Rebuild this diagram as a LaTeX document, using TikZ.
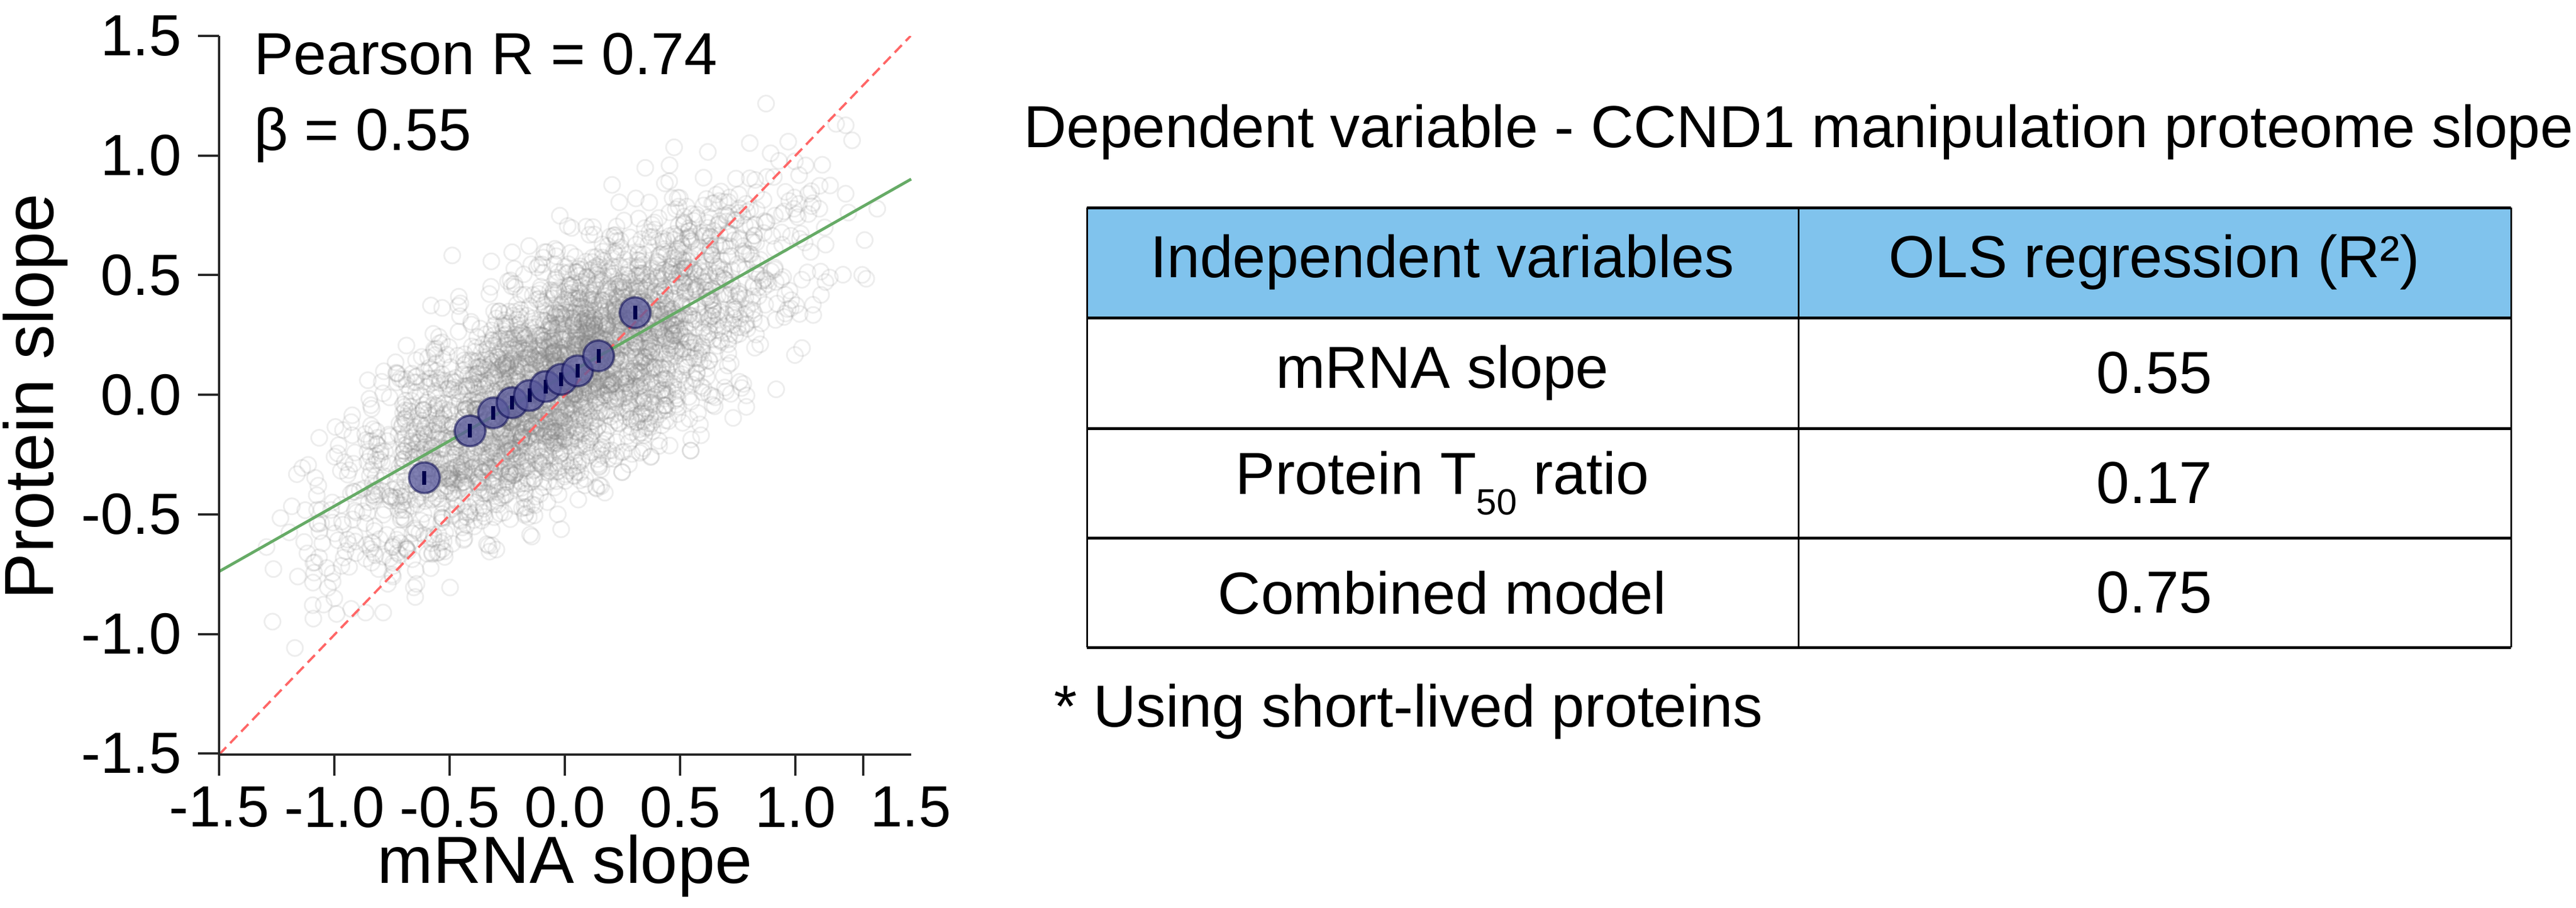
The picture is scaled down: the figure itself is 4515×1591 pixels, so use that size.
\documentclass[tikz,border=0pt]{standalone}
\usepackage{fontspec}
\setmainfont{Liberation Sans}
\begin{document}
\begin{tikzpicture}[x=1pt,y=-1pt,
  axis/.style={line width=4pt,draw=black!85},
  tick/.style={line width=4pt,draw=black!85},
  ticklab/.style={font=\fontsize{102}{110}\selectfont,inner sep=0pt},
  cloud/.style={draw=black!50,draw opacity=0.14,line width=3pt},
  binpt/.style={fill=blue!40!black!65,fill opacity=0.75,draw=blue!30!black,draw opacity=0.5,line width=4pt},
  cellt/.style={font=\fontsize{104}{110}\selectfont,inner sep=0pt},
  tline/.style={line width=5pt,draw=black}]
\useasboundingbox (0,0) rectangle (4515,1591);
\fill[white] (0,0) rectangle (4515,1591);
% scatter cloud
\begin{scope}
\clip (384,63) rectangle (1600,1323);
\pgfmathsetseed{7}
\foreach \i in {1,...,3400}{
  \pgfmathsetmacro\u{0.38*(rand+rand+rand)*(1+0.6*rnd*rnd)}
  \pgfmathsetmacro\w{0.55*\u+0.08+0.2*(rand+rand+rand)*(1+0.6*rnd*rnd)}
  \draw[cloud] ({384+404*(\u+1.5)},{63+419.4*(1.5-\w)}) circle[radius=14pt];
}
% lines
\draw[red!60!white,line width=4pt,dash pattern=on 18pt off 10pt] (384,1323) -- (1596,63);
\draw[green!45!black!60!white,line width=5pt] (384,1002) -- (1597,314);
\end{scope}
% binned points
\foreach \zx/\zy [count=\k] in {707/796,783/718,822/688,853/671,882/659,909/644,935/632,962/618,997/593,1058/521}{
  \node[binpt,circle,minimum size=54pt,inner sep=0pt] (b\k) at ({\zx/0.9503},{\zy/0.9503}) {};
  \draw[line width=7pt,draw=blue!30!black] ({\zx/0.9503},{\zy/0.9503-12}) -- ({\zx/0.9503},{\zy/0.9503+12});
}
% axes
\coordinate (o) at (384,1323);
\coordinate (xe) at (1597,1323);
\coordinate (ye) at (384,63);
\draw[axis] (xe) -- (o) -- (ye);
\foreach \v/\lab [count=\k] in {1.5/1.5,1.0/1.0,0.5/0.5,0.0/0.0,-0.5/-0.5,-1.0/-1.0,-1.5/-1.5}{
  \draw[tick] (347,{63+419.4*(1.5-\v)}) -- (384,{63+419.4*(1.5-\v)});
  \node[ticklab,anchor=east] (yl\k) at (318,{63+419.4*(1.5-\v)}) {\lab};
}
\foreach \v/\lab [count=\k] in {-1.5/-1.5,-1.0/-1.0,-0.5/-0.5,0.0/0.0,0.5/0.5,1.0/1.0,1.5/1.5}{
  \node[ticklab] (xl\k) at ({384+404*(\v+1.5)},1415) {\lab};
}
\foreach \px in {384,586,788,990,1192,1394,1513}{
  \draw[tick] (\px,1323) -- (\px,1360);
}
\node[font=\fontsize{122}{130}\selectfont,rotate=90,inner sep=0pt] (ylab) at (62,695) {Protein slope};
\node[font=\fontsize{117}{120}\selectfont,inner sep=0pt] (xlab) at (990,1518) {mRNA slope};
\node[font=\fontsize{104}{110}\selectfont,anchor=west,inner sep=0pt] (pr) at (445,95) {Pearson R = 0.74};
\node[font=\fontsize{104}{110}\selectfont,anchor=west,inner sep=0pt] (be) at (445,237) {β = 0.55};
% title
\node[font=\fontsize{104}{110}\selectfont,anchor=west,inner sep=0pt] (title) at (1794,232) {Dependent variable - CCND1 manipulation proteome slope};
% table
\fill[cyan!45!white!90!blue] (1905,364) rectangle (4401,557);
\draw[tline] (1905,364) -- (4401,364);
\draw[tline] (1905,557) -- (4401,557);
\draw[tline] (1905,751) -- (4401,751);
\draw[tline] (1905,943) -- (4401,943);
\draw[tline] (1905,1135) -- (4401,1135);
\draw[line width=3pt] (1905,364) -- (1905,1135);
\draw[line width=3pt] (3152,364) -- (3152,1135);
\draw[line width=3pt] (4401,364) -- (4401,1135);
\node[cellt] (h1) at (2528,460) {Independent variables};
\node[cellt] (h2) at (3776,460) {OLS regression (R²)};
\node[cellt] (r1a) at (2528,654) {mRNA slope};
\node[cellt] (r1b) at (3776,654) {0.55};
\node[cellt] (r2a) at (2528,847) {Protein T\raisebox{-0.35em}{\fontsize{64}{66}\selectfont 50} ratio};
\node[cellt] (r2b) at (3776,847) {0.17};
\node[cellt] (r3a) at (2528,1039) {Combined model};
\node[cellt] (r3b) at (3776,1039) {0.75};
\node[cellt,anchor=west] (foot) at (1847,1248) {* Using short-lived proteins};
\end{tikzpicture}
\end{document}
